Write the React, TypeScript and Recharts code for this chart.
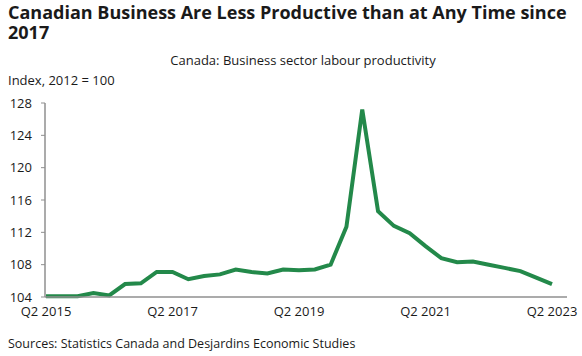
import { LineChart, Line, XAxis, YAxis } from "recharts";

const quarters = [
  "Q2 2015", "Q3 2015", "Q4 2015", "Q1 2016", "Q2 2016", "Q3 2016", "Q4 2016", "Q1 2017",
  "Q2 2017", "Q3 2017", "Q4 2017", "Q1 2018", "Q2 2018", "Q3 2018", "Q4 2018", "Q1 2019",
  "Q2 2019", "Q3 2019", "Q4 2019", "Q1 2020", "Q2 2020", "Q3 2020", "Q4 2020", "Q1 2021",
  "Q2 2021", "Q3 2021", "Q4 2021", "Q1 2022", "Q2 2022", "Q3 2022", "Q4 2022", "Q1 2023",
  "Q2 2023",
];

const productivity = [
  104.1, 104.1, 104.1, 104.5, 104.2, 105.6, 105.7, 107.1,
  107.1, 106.2, 106.6, 106.8, 107.4, 107.1, 106.9, 107.4,
  107.3, 107.4, 108.0, 112.7, 127.2, 114.6, 112.8, 111.9,
  110.3, 108.8, 108.3, 108.4, 108.0, 107.6, 107.2, 106.4,
  105.6,
];

const yTicks = [104, 108, 112, 116, 120, 124, 128];

const data = quarters.map((q, i) => ({ q, value: productivity[i] }));

const FONT = "'Open Sans', 'Noto Sans', sans-serif";
const AXIS = "#8f8f8f";
const TEXT = "#1a1a1a";

export default function App() {
  return (
    <div
      style={{
        position: "absolute",
        left: 0,
        top: 0,
        width: 582,
        height: 356,
        background: "#fff",
        fontFamily: FONT,
        color: TEXT,
      }}
    >
      <div
        style={{
          position: "absolute",
          left: 8,
          top: 2,
          width: 565,
          fontSize: 18,
          fontWeight: 700,
          lineHeight: "20px",
        }}
      >
        Canadian Business Are Less Productive than at Any Time since 2017
      </div>
      <div
        style={{
          position: "absolute",
          left: 0,
          width: 606,
          top: 51,
          textAlign: "center",
          fontSize: 13,
        }}
      >
        Canada: Business sector labour productivity
      </div>
      <div style={{ position: "absolute", left: 8, top: 71, fontSize: 13 }}>
        Index, 2012 = 100
      </div>
      <div style={{ position: "absolute", left: 8, top: 335, fontSize: 12.5 }}>
        Sources: Statistics Canada and Desjardins Economic Studies
      </div>
      <div style={{ position: "absolute", left: 0, top: 0 }}>
        <LineChart
          width={582}
          height={356}
          data={data}
          margin={{ top: 103, right: 15, bottom: 39, left: 0 }}
        >
          <XAxis
            dataKey="q"
            interval={7}
            height={20}
            padding={{ left: 1, right: 15 }}
            tickLine={false}
            tickSize={0}
            tickMargin={10}
            axisLine={{ stroke: AXIS, strokeWidth: 1.5 }}
            tick={{ fontSize: 13, fill: TEXT, fontFamily: FONT }}
          />
          <YAxis
            width={45}
            domain={[104, 128]}
            ticks={yTicks}
            tickSize={4}
            tickMargin={9}
            axisLine={{ stroke: AXIS, strokeWidth: 1.5 }}
            tickLine={{ stroke: AXIS }}
            tick={{ fontSize: 13, fill: TEXT, fontFamily: FONT }}
          />
          <Line
            type="linear"
            dataKey="value"
            stroke="#23894a"
            strokeWidth={4}
            dot={false}
            isAnimationActive={false}
          />
        </LineChart>
      </div>
    </div>
  );
}
